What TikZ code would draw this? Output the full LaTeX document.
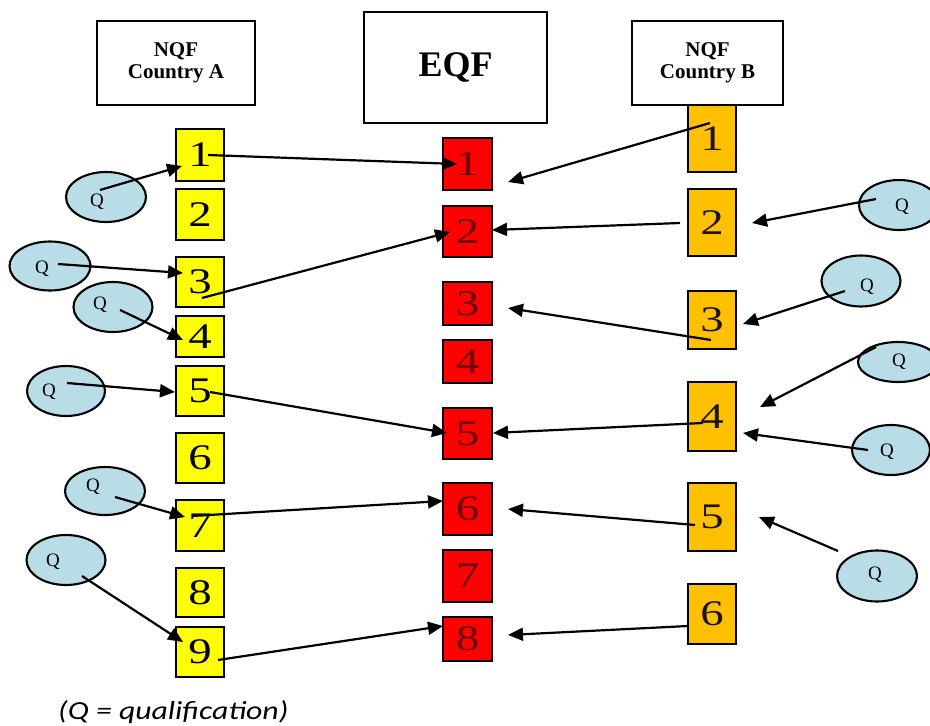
\documentclass[tikz,border=0pt]{standalone}
\usepackage{fontspec}
\setmainfont{Liberation Serif}
\newfontfamily\digitfont[FakeStretch=1.3]{Liberation Serif}
\newfontfamily\notefont[FakeStretch=1.22]{Carlito}
\usetikzlibrary{arrows.meta,calc,shapes.geometric}

\definecolor{levA}{HTML}{FFFF00}
\definecolor{levE}{HTML}{FF0000}
\definecolor{levB}{HTML}{FFC000}
\definecolor{qfill}{HTML}{B9DDE6}
\definecolor{edigit}{HTML}{6B0000}

\tikzset{
  header/.style={draw=black, line width=2.2pt, fill=white, inner sep=0pt,
                 align=center, font=\bfseries\fontsize{21}{22}\selectfont},
  lvl/.style={draw=black, line width=2.1pt, inner sep=0pt, minimum width=#1,
              font=\digitfont\fontsize{36}{36}\selectfont},
  lvlA/.style={lvl=48pt, fill=levA},
  lvlE/.style={lvl=49pt, fill=levE, text=edigit},
  lvlB/.style={lvl=48pt, fill=levB, text=black!85!brown},
  qual/.style={ellipse, draw=black, line width=2.1pt, fill=qfill, inner sep=0pt},
  qtext/.style={inner sep=0pt, font=\fontsize{19}{19}\selectfont},
  link/.style={line width=2.2pt, -{Triangle[length=15pt,width=13pt]}},
}

\begin{document}
\begin{tikzpicture}[x=1pt,y=-1pt]
\useasboundingbox (0,0) rectangle (930,726);

% column headers
\node[header, minimum width=158pt, minimum height=84pt] (hA) at (176,63) {NQF\\Country A};
\node[header, minimum width=183pt, minimum height=111pt,
      font=\bfseries\fontsize{36}{36}\selectfont] (hE) at (455.5,67.5) {EQF};

% country B levels (drawn before the header so the header edge sits on top)
\node[lvlB, minimum height=67pt] (b1) at (712,138.5) {1};
\node[lvlB, minimum height=67pt] (b2) at (712,222.5) {2};
\node[lvlB, minimum height=58pt] (b3) at (712,320)   {3};
\node[lvlB, minimum height=69pt] (b4) at (712,416.5) {4};
\node[lvlB, minimum height=68pt] (b5) at (712,517)   {5};
\node[lvlB, minimum height=60pt] (b6) at (712,614)   {6};
\node[header, minimum width=151pt, minimum height=84pt] (hB) at (707.5,63) {NQF\\Country B};

% country A levels
\node[lvlA, minimum height=52pt] (a1) at (200,155)   {1};
\node[lvlA, minimum height=51pt] (a2) at (200,214.5) {2};
\node[lvlA, minimum height=50pt] (a3) at (200,282)   {3};
\node[lvlA, minimum height=41pt] (a4) at (200,336.5) {4};
\node[lvlA, minimum height=50pt] (a5) at (200,391)   {5};
\node[lvlA, minimum height=50pt] (a6) at (200,458)   {6};
\node[lvlA, minimum height=51pt] (a7) at (200,525.5) {7};
\node[lvlA, minimum height=49pt] (a8) at (200,592.5) {8};
\node[lvlA, minimum height=50pt] (a9) at (200,652)   {9};

% EQF levels
\node[lvlE, minimum height=52pt] (e1) at (467.5,164)   {1};
\node[lvlE, minimum height=51pt] (e2) at (467.5,231.5) {2};
\node[lvlE, minimum height=43pt] (e3) at (467.5,303.5) {3};
\node[lvlE, minimum height=43pt] (e4) at (467.5,361.5) {4};
\node[lvlE, minimum height=51pt] (e5) at (467.5,433.5) {5};
\node[lvlE, minimum height=52pt] (e6) at (467.5,509)   {6};
\node[lvlE, minimum height=52pt] (e7) at (467.5,576)   {7};
\node[lvlE, minimum height=44pt] (e8) at (467.5,639)   {8};

% qualifications
\node[qual, minimum width=80pt, minimum height=50pt] (qa1) at (106,197) {};
\node[qual, minimum width=81pt, minimum height=49pt] (qa3) at (50,266) {};
\node[qual, minimum width=79pt, minimum height=50pt] (qa4) at (113,307) {};
\node[qual, minimum width=78pt, minimum height=50pt] (qa5) at (66,391) {};
\node[qual, minimum width=80pt, minimum height=48pt] (qa7) at (105,491) {};
\node[qual, minimum width=79pt, minimum height=50pt] (qa9) at (66,560) {};
\node[qual, minimum width=80pt, minimum height=50pt] (qb2) at (899,205) {};
\node[qual, minimum width=79pt, minimum height=51pt] (qb3) at (861,281) {};
\node[qual, minimum width=80pt, minimum height=40pt] (qb4a) at (898,362) {};
\node[qual, minimum width=78pt, minimum height=50pt] (qb4b) at (891,450) {};
\node[qual, minimum width=80pt, minimum height=51pt] (qb5) at (877,576) {};

\node[qtext] (qa1t)  at ($(qa1)+(-9,5)$)   {Q};
\node[qtext] (qa3t)  at ($(qa3)+(-8,3)$)   {Q};
\node[qtext] (qa4t)  at ($(qa4)+(-13,-2)$) {Q};
\node[qtext] (qa5t)  at ($(qa5)+(-17,1)$)  {Q};
\node[qtext] (qa7t)  at ($(qa7)+(-12,-4)$) {Q};
\node[qtext] (qa9t)  at ($(qa9)+(-13,2)$)  {Q};
\node[qtext] (qb2t)  at ($(qb2)+(3,2)$)    {Q};
\node[qtext] (qb3t)  at ($(qb3)+(6,6)$)    {Q};
\node[qtext] (qb4at) at ($(qb4a)+(1,0)$)   {Q};
\node[qtext] (qb4bt) at ($(qb4b)+(-4,2)$)  {Q};
\node[qtext] (qb5t)  at ($(qb5)+(-2,-1)$)  {Q};

% qualifications placed on national levels
\draw[link] ($(qa1)+(-6,-7)$)  -- ($(a1)+(-18,11)$);
\draw[link] ($(qa3)+(8,-2)$)   -- ($(a3)+(-17,-9)$);
\draw[link] ($(qa4)+(7,3)$)    -- ($(a4)+(-17,3.5)$);
\draw[link] ($(qa5)+(1,-8)$)   -- ($(a5)+(-25,1)$);
\draw[link] ($(qa7)+(10,6)$)   -- ($(a7)+(-15,-8.5)$);
\draw[link] ($(qa9)+(16,16)$)  -- ($(a9)+(-17,-10)$);
\draw[link] ($(qb2)+(-23,-6)$) -- ($(b2)+(40,0.5)$);
\draw[link] ($(qb3)+(-16,10)$) -- ($(b3)+(31,4)$);
\draw[link] ($(qb4a)+(-22,-15)$) -- ($(b4)+(48,-9.5)$);
\draw[link] ($(qb4b)+(-23,0)$) -- ($(b4)+(31,16.5)$);
\draw[link] ($(qb5)+(-39,-25)$) -- ($(b5)+(47,0)$);

% national levels referenced to the EQF
\draw[link] ($(a1)+(8,0)$)     -- ($(e1)+(-10.5,0)$);
\draw[link] ($(a3)+(2,16)$)    -- ($(e2)+(-17.5,0.5)$);
\draw[link] ($(a5)+(10,1)$)    -- ($(e5)+(-20.5,-0.5)$);
\draw[link] ($(a7)+(-8,-9.5)$) -- ($(e6)+(-24.5,-8)$);
\draw[link] ($(a9)+(18,8)$)    -- ($(e8)+(-24.5,-13)$);

\draw[link] ($(b1)+(-2,-15.5)$) -- ($(e1)+(40.5,18)$);
\draw[link] ($(b2)+(-32,0.5)$)  -- ($(e2)+(24.5,-1.5)$);
\draw[link] ($(b3)+(-1,20)$)    -- ($(e3)+(40.5,4.5)$);
\draw[link] ($(b4)+(-9,6.5)$)   -- ($(e5)+(25.5,-0.5)$);
\draw[link] ($(b5)+(-17,8)$)    -- ($(e6)+(40.5,0)$);
\draw[link] ($(b6)+(-24,12)$)   -- ($(e8)+(40.5,-4)$);

% legend
\node[anchor=base west, inner sep=0pt, font=\notefont\itshape\fontsize{26}{26}\selectfont]
  (note) at (58,719) {(Q = qualification)};
\end{tikzpicture}
\end{document}
